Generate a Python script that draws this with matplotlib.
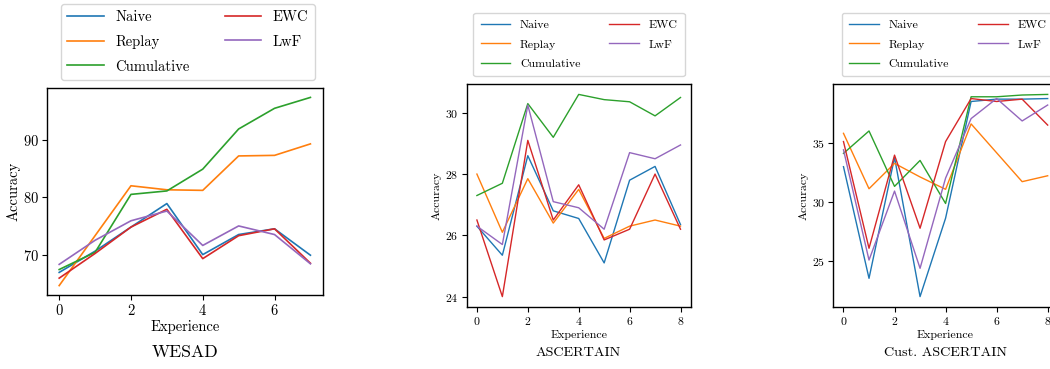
import numpy as np
import matplotlib
matplotlib.use("Agg")
import matplotlib.pyplot as plt

plt.rcParams['font.family'] = 'serif'
plt.rcParams['font.serif'] = ['cmr10']
plt.rcParams['mathtext.fontset'] = 'cm'
plt.rcParams['axes.formatter.use_mathtext'] = True

metodos = ["Naive", "Replay", "Cumulative", "EWC", "LwF"]
colores = ["C0", "C1", "C2", "C3", "C4"]

# WESAD (8 experiencias)
wesad_naive = [66.9, 70.6, 74.8, 78.9, 70.0, 73.5, 74.5, 69.9]
wesad_replay = [64.6, 73.3, 82.0, 81.3, 81.2, 87.2, 87.3, 89.3]
wesad_cumulative = [67.4, 70.4, 80.5, 81.1, 84.9, 91.9, 95.5, 97.4]
wesad_ewc = [65.9, 70.2, 74.8, 77.9, 69.3, 73.3, 74.5, 68.5]
wesad_lwf = [68.3, 72.5, 75.9, 77.6, 71.6, 75.0, 73.5, 68.4]

# ASCERTAIN (9 experiencias)
asc_naive = [26.3, 25.35, 28.6, 26.8, 26.55, 25.1, 27.8, 28.25, 26.35]
asc_replay = [28.0, 26.1, 27.85, 26.4, 27.5, 25.9, 26.3, 26.5, 26.3]
asc_cumulative = [27.3, 27.7, 30.3, 29.2, 30.6, 30.43, 30.36, 29.9, 30.5]
asc_ewc = [26.5, 24.0, 29.1, 26.5, 27.65, 25.85, 26.2, 28.0, 26.2]
asc_lwf = [26.3, 25.7, 30.25, 27.1, 26.9, 26.2, 28.7, 28.5, 28.95]

# Cust. ASCERTAIN (9 experiencias)
cust_naive = [32.97, 23.5, 33.75, 21.95, 28.6, 38.5, 38.7, 38.7, 38.75]
cust_replay = [35.8, 31.1, 33.25, 32.1, 31.05, 36.6, 34.15, 31.7, 32.2]
cust_cumulative = [34.1, 36.0, 31.3, 33.5, 29.85, 38.9, 38.9, 39.05, 39.1]
cust_ewc = [35.1, 26.05, 33.95, 27.75, 35.1, 38.75, 38.5, 38.7, 36.5]
cust_lwf = [34.4, 25.05, 30.9, 24.35, 32.0, 37.05, 38.75, 36.85, 38.2]

paneles = [
    ("WESAD", [wesad_naive, wesad_replay, wesad_cumulative, wesad_ewc, wesad_lwf],
     [0, 2, 4, 6], [70, 80, 90]),
    ("ASCERTAIN", [asc_naive, asc_replay, asc_cumulative, asc_ewc, asc_lwf],
     [0, 2, 4, 6, 8], [24, 26, 28, 30]),
    ("Cust. ASCERTAIN", [cust_naive, cust_replay, cust_cumulative, cust_ewc, cust_lwf],
     [0, 2, 4, 6, 8], [25, 30, 35]),
]

fig = plt.figure(figsize=(10.5, 3.69), dpi=100)

# posiciones de cada panel [izq, abajo, ancho, alto], tamaño de letra, leyenda
config = [
    dict(rect=[0.0444, 0.2005, 0.2632, 0.561], fs=10.5, lfs=10.5, tfs=12.7, lw=1.2,
         pad=2.0, bpad=0.45,
         leg_loc='lower center', leg_xy=(0.179, 0.783), title_xy=(0.176, 0.046)),
    dict(rect=[0.4445, 0.1688, 0.2133, 0.6027], fs=8.5, lfs=8.6, tfs=10.2, lw=1.0,
         pad=2.5, bpad=0.6,
         leg_loc='lower center', leg_xy=(0.5514, 0.794), title_xy=(0.5505, 0.043)),
    dict(rect=[0.7936, 0.1688, 0.2139, 0.6027], fs=8.5, lfs=8.6, tfs=10.2, lw=1.0,
         pad=2.5, bpad=0.6,
         leg_loc='lower left', leg_xy=(0.802, 0.794), title_xy=(0.900, 0.043)),
]

for (titulo, series, xt, yt), cfg in zip(paneles, config):
    ax = fig.add_axes(cfg['rect'])
    x = np.arange(len(series[0]))
    for nombre, color, valores in zip(metodos, colores, series):
        ax.plot(x, valores, color=color, lw=cfg['lw'], label=nombre)
    ax.set_xticks(xt)
    ax.set_yticks(yt)
    ax.tick_params(labelsize=cfg['fs'], pad=cfg['pad'])
    ax.set_xlabel("Experience", fontsize=cfg['lfs'], labelpad=2)
    ax.set_ylabel("Accuracy", fontsize=cfg['lfs'], labelpad=2)
    for s in ax.spines.values():
        s.set_linewidth(1.0)
    fig.legend(*ax.get_legend_handles_labels(), loc=cfg['leg_loc'],
               bbox_to_anchor=cfg['leg_xy'], bbox_transform=fig.transFigure,
               ncol=2, fontsize=cfg['lfs'], handlelength=2.5, columnspacing=2.4,
               labelspacing=0.75, borderpad=cfg['bpad'], borderaxespad=0.0)
    fig.text(cfg['title_xy'][0], cfg['title_xy'][1], titulo, ha='center',
             va='center', fontsize=cfg['tfs'])

fig.savefig("out.png", dpi=100)
